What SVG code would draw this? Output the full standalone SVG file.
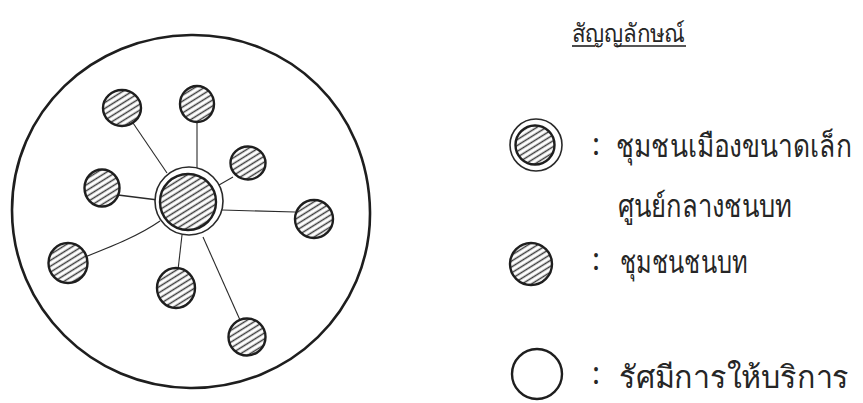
<svg xmlns="http://www.w3.org/2000/svg" width="863" height="403" viewBox="0 0 863 403">
  <defs>
    <pattern id="hatch" width="5" height="5" patternUnits="userSpaceOnUse" patternTransform="rotate(-32)">
      <rect width="5" height="5" fill="#ffffff"/>
      <line x1="0" y1="2.5" x2="5" y2="2.5" stroke="#3a3a3a" stroke-width="1.5"/>
    </pattern>
  </defs>
  <style>
    .bg { fill: #ffffff; }
    .outer { fill: none; stroke: #1e1e1e; stroke-width: 2.6; }
    .dot { fill: url(#hatch); stroke: #1e1e1e; stroke-width: 2.4; }
    .ring { fill: #ffffff; stroke: #2a2a2a; stroke-width: 1.6; }
    .link { fill: none; stroke: #2a2a2a; stroke-width: 1.1; }
    .empty { fill: none; stroke: #1e1e1e; stroke-width: 2.4; }
    .txt { font-family: "Noto Sans", "DejaVu Sans", sans-serif; fill: #262626; }
    .lbl { font-size: 27px; }
    .colon { font-size: 30px; text-anchor: middle; }
    .title { font-size: 25px; }
    .uline { stroke: #1e1e1e; stroke-width: 1.6; }
  </style>
  <rect class="bg" width="863" height="403"/>

  <g id="service-radius">
    <path class="outer" d="M191,35 C290,34 369,110 370,212 C371,310 290,389 190,388 C92,387 12,308 12,210 C12,112 92,36 191,35 Z"/>
  </g>

  <g id="connectors">
    <line class="link" x1="133" y1="123" x2="167" y2="173"/>
    <line class="link" x1="197" y1="122" x2="197" y2="168"/>
    <line class="link" x1="233" y1="177" x2="219" y2="185"/>
    <line class="link" x1="118" y1="195" x2="158" y2="200" style="stroke-width:1.6"/>
    <line class="link" x1="222" y1="210" x2="295" y2="212"/>
    <path class="link" d="M85,257 C115,245 140,235 160,221"/>
    <line class="link" x1="182" y1="235" x2="178" y2="270"/>
    <line class="link" x1="203" y1="237" x2="240" y2="320"/>
  </g>

  <g id="center-town">
    <circle class="ring" cx="189" cy="201" r="34"/>
    <circle class="dot" cx="188" cy="202" r="28"/>
  </g>
  <g id="village-1"><ellipse class="dot" cx="122" cy="108" rx="19" ry="18"/></g>
  <g id="village-2"><ellipse class="dot" cx="197" cy="104" rx="17" ry="18"/></g>
  <g id="village-3"><ellipse class="dot" cx="248" cy="163" rx="17.5" ry="16.5"/></g>
  <g id="village-4"><ellipse class="dot" cx="102" cy="188" rx="17.5" ry="18.5"/></g>
  <g id="village-5"><ellipse class="dot" cx="314" cy="219" rx="19" ry="19"/></g>
  <g id="village-6"><ellipse class="dot" cx="68" cy="263" rx="19.5" ry="20"/></g>
  <g id="village-7"><ellipse class="dot" cx="176" cy="288" rx="19" ry="20"/></g>
  <g id="village-8"><ellipse class="dot" cx="247" cy="337" rx="18.5" ry="18.5"/></g>

  <g id="legend-title">
    <text class="txt title" x="572" y="42" textLength="113" lengthAdjust="spacingAndGlyphs">สัญญลักษณ์</text>
    <line class="uline" x1="572" y1="46" x2="595" y2="46"/>
    <line class="uline" x1="617" y1="46" x2="686" y2="46"/>
  </g>

  <g id="legend-town">
    <circle class="ring" cx="536" cy="145" r="26"/>
    <circle class="dot" cx="535" cy="145" r="19.5"/>
    <text class="txt colon" x="596" y="155">:</text>
    <text class="txt lbl" transform="translate(616,157) scale(1,1.15)" x="0" y="0" textLength="236" lengthAdjust="spacingAndGlyphs">ชุมชนเมืองขนาดเล็ก</text>
    <text class="txt lbl" transform="translate(618,217) scale(1,1.15)" x="0" y="0" textLength="174" lengthAdjust="spacingAndGlyphs">ศูนย์กลางชนบท</text>
  </g>

  <g id="legend-village">
    <circle class="dot" cx="531" cy="264" r="21"/>
    <text class="txt colon" x="596" y="270">:</text>
    <text class="txt lbl" transform="translate(620,273) scale(1,1.15)" x="0" y="0" textLength="127" lengthAdjust="spacingAndGlyphs">ชุมชนชนบท</text>
  </g>

  <g id="legend-radius">
    <circle class="empty" cx="537" cy="374" r="25"/>
    <text class="txt colon" x="596" y="384">:</text>
    <text class="txt lbl" transform="translate(619,388) scale(1,1.15)" x="0" y="0" textLength="230" lengthAdjust="spacingAndGlyphs">รัศมีการให้บริการ</text>
  </g>
</svg>
